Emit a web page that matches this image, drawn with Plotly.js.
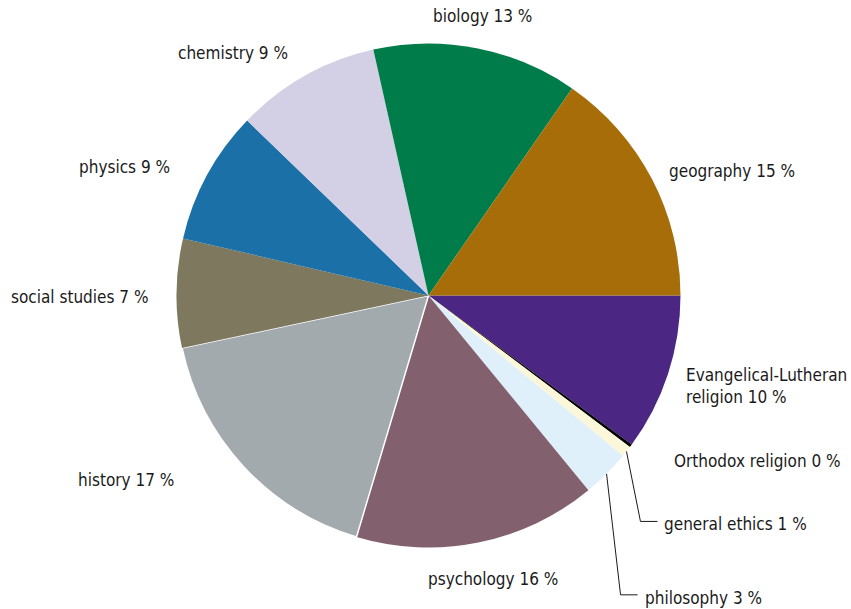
<!DOCTYPE html>
<html>
<head>
<meta charset="utf-8">
<script src="https://cdn.plot.ly/plotly-3.0.1.min.js"></script>
<style>html,body{margin:0;padding:0;background:#fff;}#chart{width:851px;height:609px;}</style>
</head>
<body>
<div id="chart"></div>
<script>
// ---- data ----
const labels = ['Evangelical-Lutheran religion', 'Orthodox religion', 'general ethics', 'philosophy',
  'psychology', 'history', 'social studies', 'physics', 'chemistry', 'biology', 'geography'];
const values = [10.1, 0.2, 0.7, 3.1, 15.6, 17.1, 7.0, 8.6, 9.3, 13.2, 15.4];
const labelText = ['Evangelical-Lutheran<br>religion', 'Orthodox religion', 'general ethics', 'philosophy',
  'psychology', 'history', 'social studies', 'physics', 'chemistry', 'biology', 'geography'];

// ---- style ----
const colors = ['#4B2683', '#000000', '#FDF7D9', '#DFF0FA', '#82606E', '#A3AAAE',
  '#7D785E', '#1A70A7', '#D3CFE4', '#007C4B', '#A66D08'];
const edgeW = [0, 0, 0, 0, 0, 1.5, 0, 0, 0, 0, 0];
// label placement: [dx, dy, xanchor, yanchor, leader]
const place = [
  [-3, 6, 'left', 'middle', false],
  [25, 3, 'left', 'middle', false],
  [36, 73, 'left', 'middle', true],
  [36, 124, 'left', 'middle', true],
  [11, 5, 'center', 'top', false],
  [-53, 0, 'right', 'middle', false],
  [-6, 4, 'right', 'middle', false],
  [-17, 2, 'right', 'middle', false],
  [-5, -5, 'right', 'middle', false],
  [2, 0, 'center', 'bottom', false],
  [-3, 2, 'left', 'middle', false]
];

const W = 851, H = 609;
const cx = 428.5, cy = 295.5, r = 252;
const font = {family: '"DejaVu Sans Condensed", "Open Sans", sans-serif', size: 17, color: '#1a1a1a'};

const total = values.reduce((a, b) => a + b, 0);
const px2x = x => x / W, px2y = y => 1 - y / H;

const annotations = [], shapes = [];
let cum = 0;
values.forEach((v, i) => {
  const mid = (cum + v / 2) / total * 2 * Math.PI; // clockwise from 3 o'clock
  cum += v;
  const p = place[i];
  const txt = labelText[i] + ' ' + Math.round(v) + ' %';
  let lx, ly;
  if (p[4]) {
    const ex = cx + r * Math.cos(mid), ey = cy + r * Math.sin(mid);
    lx = ex + p[0]; ly = ey + p[1];
    shapes.push({type: 'path', xref: 'paper', yref: 'paper',
      path: 'M' + px2x(ex) + ',' + px2y(ey) + ' L' + px2x(lx - 22) + ',' + px2y(ly - 3) + ' L' + px2x(lx - 5) + ',' + px2y(ly - 3),
      line: {color: '#1a1a1a', width: 1}});
  } else {
    const R = r * 1.08;
    lx = cx + R * Math.cos(mid) + p[0];
    ly = cy + R * Math.sin(mid) + p[1];
  }
  annotations.push({xref: 'paper', yref: 'paper', x: px2x(lx), y: px2y(ly), text: txt,
    showarrow: false, xanchor: p[2], yanchor: p[3], align: 'left', font: font});
});

const trace = {
  type: 'pie', labels: labels, values: values, sort: false, direction: 'clockwise', rotation: 90,
  marker: {colors: colors, line: {color: '#ffffff', width: edgeW}},
  textinfo: 'none', hoverinfo: 'label+percent', showlegend: false,
  domain: {x: [(cx - r) / W, (cx + r) / W], y: [1 - (cy + r) / H, 1 - (cy - r) / H]}
};

Plotly.newPlot('chart', [trace], {
  width: W, height: H, margin: {l: 0, r: 0, t: 0, b: 0},
  paper_bgcolor: '#ffffff', plot_bgcolor: '#ffffff', showlegend: false,
  annotations: annotations, shapes: shapes
}, {displayModeBar: false, staticPlot: true});
</script>
</body>
</html>
